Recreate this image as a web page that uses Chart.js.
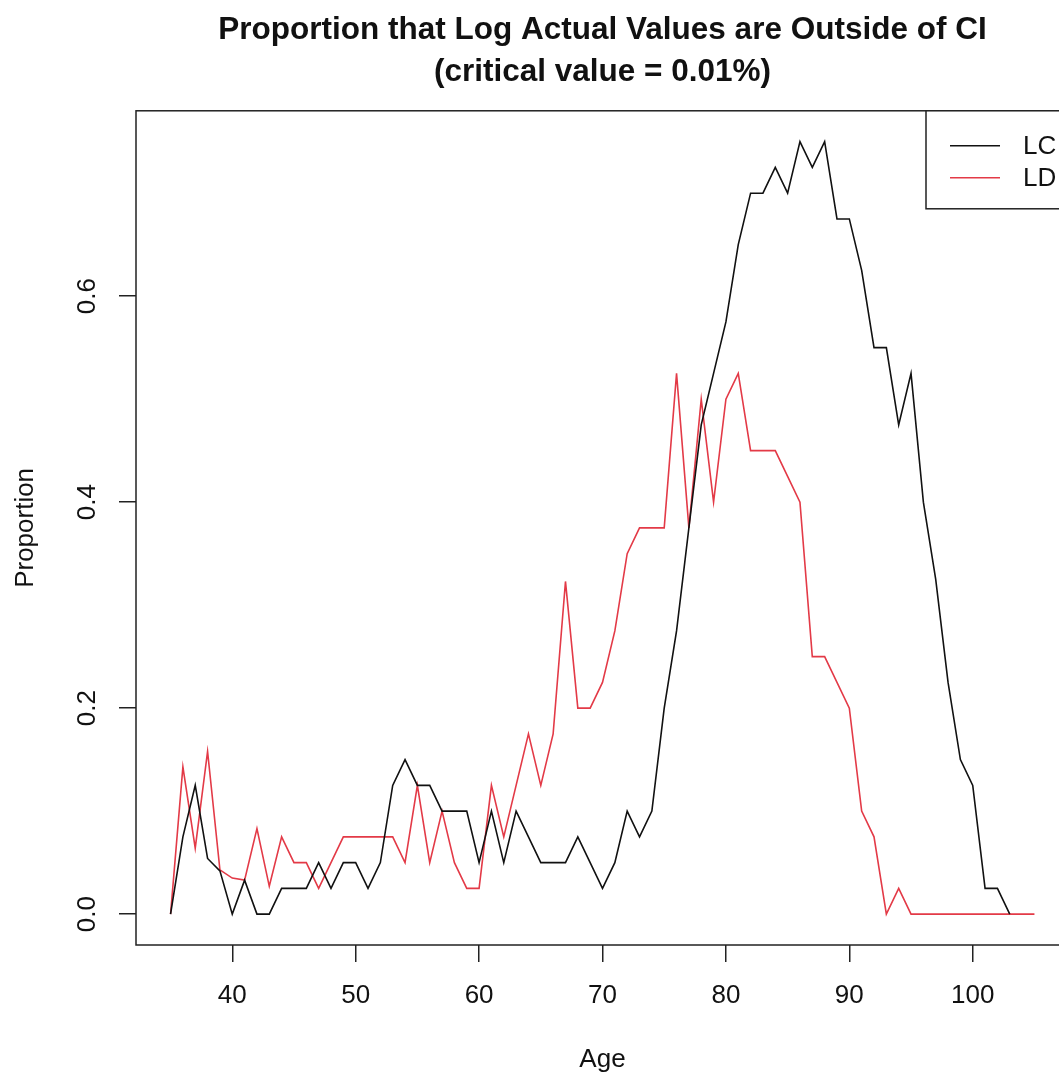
<!DOCTYPE html>
<html>
<head>
<meta charset="utf-8">
<script src="https://cdn.jsdelivr.net/npm/chart.js@4.4.1/dist/chart.umd.min.js"></script>
<style>
  body { margin: 0; background: #fff; overflow: hidden; }
</style>
</head>
<body>
<canvas id="ci-chart" width="1075" height="1078"></canvas>
<script>
// ages and proportions
var lcAges = [];
for (var a = 35; a <= 103; a++) lcAges.push(a);
var ldAges = [];
for (var b = 35; b <= 105; b++) ldAges.push(b);

var lcValues = [0, 0.075, 0.125, 0.054, 0.042, 0, 0.033, 0, 0, 0.025,
  0.025, 0.025, 0.05, 0.025, 0.05, 0.05, 0.025, 0.05, 0.125, 0.15,
  0.125, 0.125, 0.1, 0.1, 0.1, 0.05, 0.1, 0.05, 0.1, 0.075,
  0.05, 0.05, 0.05, 0.075, 0.05, 0.025, 0.05, 0.1, 0.075, 0.1,
  0.2, 0.275, 0.375, 0.475, 0.525, 0.575, 0.65, 0.7, 0.7, 0.725,
  0.7, 0.75, 0.725, 0.75, 0.675, 0.675, 0.625, 0.55, 0.55, 0.475,
  0.525, 0.4, 0.325, 0.225, 0.15, 0.125, 0.025, 0.025, 0];

var ldValues = [0, 0.143, 0.064, 0.158, 0.043, 0.035, 0.033, 0.083, 0.027, 0.075,
  0.05, 0.05, 0.025, 0.05, 0.075, 0.075, 0.075, 0.075, 0.075, 0.05,
  0.125, 0.05, 0.1, 0.05, 0.025, 0.025, 0.125, 0.075, 0.125, 0.175,
  0.125, 0.175, 0.323, 0.2, 0.2, 0.225, 0.275, 0.35, 0.375, 0.375,
  0.375, 0.525, 0.375, 0.5, 0.4, 0.5, 0.525, 0.45, 0.45, 0.45,
  0.425, 0.4, 0.25, 0.25, 0.225, 0.2, 0.1, 0.075, 0, 0.025,
  0, 0, 0, 0, 0, 0, 0, 0, 0, 0, 0];

var xTicks = [40, 50, 60, 70, 80, 90, 100];
var yTicks = [0, 0.2, 0.4, 0.6];

var seriesNames = ["LC", "LD"];
var seriesColors = ["#111111", "#e33a47"];

var FONT = "'Liberation Sans', Arial, Helvetica, sans-serif";

function pairs(xs, ys) {
  var out = [];
  for (var i = 0; i < xs.length; i++) out.push({ x: xs[i], y: ys[i] });
  return out;
}

// box round the plot region plus R-style legend in the top right corner
var boxAndLegend = {
  id: 'boxAndLegend',
  afterDraw: function (chart) {
    var ctx = chart.ctx;
    var ca = chart.chartArea;
    ctx.save();
    ctx.strokeStyle = '#222';
    ctx.lineWidth = 1.5;
    ctx.strokeRect(ca.left, ca.top, ca.right - ca.left, ca.bottom - ca.top);

    var lx = 926, ly = ca.top, lw = ca.right - 926, lh = 98;
    ctx.fillStyle = '#fff';
    ctx.fillRect(lx, ly, lw, lh);
    ctx.strokeRect(lx, ly, lw, lh);

    ctx.font = '26px ' + FONT;
    ctx.textBaseline = 'middle';
    ctx.textAlign = 'left';
    chart.data.datasets.forEach(function (ds, i) {
      var y = ly + 35 + i * 32;
      ctx.strokeStyle = ds.borderColor;
      ctx.lineWidth = 1.5;
      ctx.beginPath();
      ctx.moveTo(950, y);
      ctx.lineTo(1000, y);
      ctx.stroke();
      ctx.fillStyle = '#111';
      ctx.fillText(ds.label, 1023, y + 1);
    });
    ctx.restore();
  }
};

new Chart(document.getElementById('ci-chart'), {
  type: 'line',
  data: {
    datasets: [
      {
        label: seriesNames[0],
        data: pairs(lcAges, lcValues),
        borderColor: seriesColors[0],
        borderWidth: 1.6,
        pointRadius: 0,
        fill: false,
        tension: 0
      },
      {
        label: seriesNames[1],
        data: pairs(ldAges, ldValues),
        borderColor: seriesColors[1],
        borderWidth: 1.6,
        pointRadius: 0,
        fill: false,
        tension: 0
      }
    ]
  },
  options: {
    responsive: false,
    animation: false,
    layout: { padding: { left: 0, right: 6, top: 0, bottom: 0 } },
    plugins: {
      legend: { display: false },
      tooltip: { enabled: false },
      title: {
        display: true,
        fullSize: false,
        text: ['Proportion that Log Actual Values are Outside of CI', '(critical value = 0.01%)'],
        color: '#111',
        font: { family: FONT, size: 31.5, weight: 'bold', lineHeight: 1.33 },
        padding: { top: 9, bottom: 18 }
      }
    },
    scales: {
      x: {
        type: 'linear',
        position: 'bottom',
        min: 32.2,
        max: 107.8,
        afterBuildTicks: function (scale) {
          scale.ticks = xTicks.map(function (v) { return { value: v }; });
        },
        afterFit: function (scale) { scale.height = 133; },
        grid: { display: true, drawOnChartArea: false, drawTicks: true, tickLength: 17, color: '#222', lineWidth: 1.5 },
        border: { display: false },
        ticks: {
          color: '#111',
          font: { family: FONT, size: 26 },
          padding: 18,
          maxRotation: 0,
          callback: function (v) { return v; }
        },
        title: {
          display: true,
          text: 'Age',
          color: '#111',
          font: { family: FONT, size: 26 },
          padding: { top: 0, bottom: 3 }
        }
      },
      y: {
        type: 'linear',
        position: 'left',
        min: -0.03,
        max: 0.78,
        afterBuildTicks: function (scale) {
          scale.ticks = yTicks.map(function (v) { return { value: v }; });
        },
        afterFit: function (scale) { scale.width = 136; },
        grid: { display: true, drawOnChartArea: false, drawTicks: true, tickLength: 17, color: '#222', lineWidth: 1.5 },
        border: { display: false },
        ticks: {
          color: '#111',
          font: { family: FONT, size: 26 },
          minRotation: 90,
          maxRotation: 90,
          crossAlign: 'center',
          padding: 13,
          callback: function (v) { return v.toFixed(1); }
        },
        title: {
          display: true,
          text: 'Proportion',
          color: '#111',
          font: { family: FONT, size: 26 },
          padding: { top: 10, bottom: 0 }
        }
      }
    }
  },
  plugins: [boxAndLegend]
});
</script>
</body>
</html>
